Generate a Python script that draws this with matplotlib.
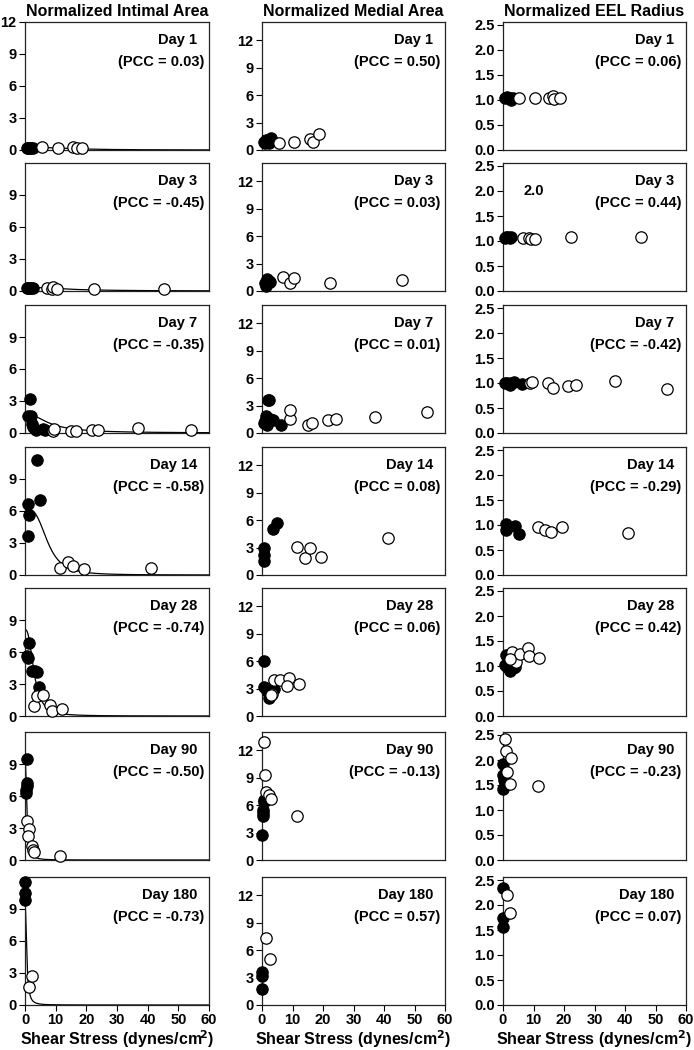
import numpy as np
import matplotlib
matplotlib.use("Agg")
import matplotlib.pyplot as plt

plt.rcParams['font.family'] = ['Liberation Sans', 'DejaVu Sans']
plt.rcParams['font.weight'] = 'bold'
plt.rcParams['mathtext.default'] = 'bf'

days = ["Day 1", "Day 3", "Day 7", "Day 14", "Day 28", "Day 90", "Day 180"]
col_titles = ["Normalized Intimal Area", "Normalized Medial Area", "Normalized EEL Radius"]

pcc_intimal = ["0.03", "-0.45", "-0.35", "-0.58", "-0.74", "-0.50", "-0.73"]
pcc_medial = ["0.50", "0.03", "0.01", "0.08", "0.06", "-0.13", "0.57"]
pcc_eel = ["0.06", "0.44", "-0.42", "-0.29", "0.42", "-0.23", "0.07"]

# ---------------- Intimal area ----------------
int_d1_filled = ([0.5, 1.0, 1.5, 2.0, 2.5], [0.2, 0.2, 0.2, 0.2, 0.2])
int_d1_open = ([5.4, 10.6, 15.8, 17.1, 18.5], [0.25, 0.2, 0.25, 0.2, 0.15])
int_d3_filled = ([0.5, 1.0, 1.5, 2.0, 2.5], [0.3, 0.3, 0.3, 0.3, 0.3])
int_d3_open = ([7.1, 8.7, 9.2, 10.5, 22.5, 45.3], [0.25, 0.15, 0.35, 0.15, 0.15, 0.15])
int_d7_filled = ([1.6, 1.1, 1.8, 2.2, 2.7, 3.6, 6.0, 6.5],
                 [3.2, 1.55, 1.6, 0.8, 0.55, 0.3, 0.4, 0.3])
int_d7_open = ([9.2, 9.5, 14.9, 16.6, 21.7, 23.9, 37.0, 54.0],
               [0.15, 0.4, 0.15, 0.2, 0.3, 0.3, 0.5, 0.25])
int_d14_filled = ([1.1, 1.3, 1.1, 3.8, 4.9], [6.7, 5.6, 3.65, 10.8, 7.0])
int_d14_open = ([11.4, 14.1, 15.8, 19.3, 41.1], [0.7, 1.25, 0.85, 0.6, 0.7])
int_d28_filled = ([0.8, 1.1, 1.4, 2.2, 3.3, 4.0, 4.7], [5.6, 5.4, 6.8, 4.2, 4.2, 4.1, 2.7])
int_d28_open = ([2.9, 4.0, 5.8, 8.2, 8.7, 12.0], [0.95, 1.9, 1.95, 1.05, 0.5, 0.7])
int_d90_filled = ([0.5, 0.3, 0.5, 0.8, 0.3], [9.5, 6.3, 6.9, 7.25, 6.6])
int_d90_open = ([0.8, 1.4, 1.1, 2.2, 2.7, 2.9, 11.4], [3.65, 2.9, 2.25, 1.3, 0.95, 0.75, 0.4])
int_d180_filled = ([0.0, 0.0, 0.0], [11.5, 10.5, 9.85])
int_d180_open = ([1.4, 2.4], [1.65, 2.75])

# fitted decay curve parameters (y = a / (1 + (x/x0)^n)) per day
int_fit_a = [0.25, 0.35, 1.85, 6.2, 8.1, 9.5, 9.5]
int_fit_x0 = [16.0, 14.0, 8.0, 7.4, 3.0, 0.65, 0.6]
int_fit_n = [2.5, 2.0, 2.0, 3.25, 2.6, 2.2, 2.2]

# ---------------- Medial area ----------------
med_d1_filled = ([0.5, 1.4, 2.2, 2.9, 1.1, 2.5], [0.9, 1.1, 0.8, 1.3, 0.75, 1.1])
med_d1_open = ([5.5, 10.6, 15.8, 16.7, 18.8], [0.75, 0.85, 1.15, 0.9, 1.8])
med_d3_filled = ([1.1, 1.6, 2.2, 1.4, 2.7], [0.9, 1.35, 1.1, 0.55, 1.0])
med_d3_open = ([6.9, 9.1, 10.4, 22.4, 45.8], [1.5, 0.85, 1.45, 0.85, 1.15])
med_d7_filled = ([1.9, 2.2, 1.4, 0.5, 1.6, 2.7, 3.6, 6.2, 1.1],
                 [3.65, 3.65, 1.9, 1.1, 0.9, 1.5, 1.45, 0.9, 1.3])
med_d7_open = ([9.1, 9.3, 15.0, 16.4, 21.8, 24.2, 36.9, 54.2],
               [1.5, 2.55, 0.9, 1.1, 1.45, 1.55, 1.75, 2.3])
med_d14_filled = ([0.8, 0.8, 0.5, 3.6, 4.9], [2.9, 2.2, 1.55, 5.0, 5.65])
med_d14_open = ([11.5, 14.2, 15.8, 19.3, 41.2], [3.1, 1.9, 2.9, 2.0, 4.1])
med_d28_filled = ([0.5, 0.5, 1.6, 2.2, 2.9, 3.8], [6.0, 3.2, 2.7, 2.0, 2.45, 3.0])
med_d28_open = ([3.3, 4.0, 5.8, 8.7, 8.2, 12.0, 2.9], [2.45, 3.9, 3.9, 4.15, 3.3, 3.55, 2.25])
med_d90_filled = ([0.0, 0.3, 0.3, 0.5, 0.3, 0.5], [2.7, 4.8, 5.5, 6.3, 5.15, 6.6])
med_d90_open = ([0.5, 1.1, 1.4, 2.2, 2.9, 11.5], [12.9, 9.3, 7.4, 7.1, 6.7, 4.8])
med_d180_filled = ([0.0, 0.0, 0.0], [3.65, 3.15, 1.75])
med_d180_open = ([1.4, 2.5], [7.3, 5.05])

# ---------------- EEL radius ----------------
eel_d1_filled = ([0.5, 1.3, 2.2, 2.7, 3.2], [1.03, 1.05, 1.03, 1.0, 1.03])
eel_d1_open = ([5.2, 10.6, 15.1, 16.4, 16.8, 18.6], [1.03, 1.03, 1.03, 1.07, 1.01, 1.03])
eel_d3_filled = ([0.5, 1.1, 1.6, 2.2, 2.7], [1.05, 1.07, 1.07, 1.05, 1.07])
eel_d3_open = ([6.5, 8.6, 9.2, 10.5, 22.2, 45.4], [1.05, 1.05, 1.04, 1.04, 1.07, 1.08])
eel_d7_filled = ([0.5, 1.3, 2.2, 3.5, 6.2, 2.7], [1.0, 1.01, 0.97, 1.02, 0.98, 1.0])
eel_d7_open = ([8.9, 9.4, 14.8, 16.4, 21.4, 23.8, 36.8, 53.7],
               [1.0, 1.03, 1.0, 0.9, 0.95, 0.97, 1.05, 0.88])
eel_d14_filled = ([0.9, 1.1, 1.6, 3.8, 5.1], [1.03, 0.91, 0.97, 0.98, 0.82])
eel_d14_open = ([11.4, 13.8, 15.7, 19.2, 40.9], [0.97, 0.91, 0.86, 0.97, 0.85])
eel_d28_filled = ([0.9, 0.5, 1.3, 2.2, 3.2, 3.8, 2.7], [1.23, 1.03, 0.98, 0.9, 0.96, 0.98, 0.96])
eel_d28_open = ([3.0, 4.1, 5.6, 8.1, 8.4, 11.9, 2.2], [1.29, 1.09, 1.25, 1.37, 1.2, 1.16, 1.15])
eel_d90_filled = ([0.0, 0.0, 0.2, 0.0, 0.5], [1.93, 1.71, 1.61, 1.43, 1.55])
eel_d90_open = ([0.5, 1.1, 2.7, 1.3, 2.2, 11.4], [2.43, 2.18, 2.05, 1.76, 1.53, 1.48])
eel_d180_filled = ([0.0, 0.0, 0.0], [2.34, 1.75, 1.57])
eel_d180_open = ([1.4, 2.4], [2.21, 1.85])

intimal = [(int_d1_filled, int_d1_open), (int_d3_filled, int_d3_open),
           (int_d7_filled, int_d7_open), (int_d14_filled, int_d14_open),
           (int_d28_filled, int_d28_open), (int_d90_filled, int_d90_open),
           (int_d180_filled, int_d180_open)]
medial = [(med_d1_filled, med_d1_open), (med_d3_filled, med_d3_open),
          (med_d7_filled, med_d7_open), (med_d14_filled, med_d14_open),
          (med_d28_filled, med_d28_open), (med_d90_filled, med_d90_open),
          (med_d180_filled, med_d180_open)]
eel = [(eel_d1_filled, eel_d1_open), (eel_d3_filled, eel_d3_open),
       (eel_d7_filled, eel_d7_open), (eel_d14_filled, eel_d14_open),
       (eel_d28_filled, eel_d28_open), (eel_d90_filled, eel_d90_open),
       (eel_d180_filled, eel_d180_open)]

W, H = 694, 1050
fig = plt.figure(figsize=(W / 100, H / 100), dpi=100)

col_left = [25, 262, 503]
col_width = [184, 183, 183]
row_top = [22, 163, 305, 447, 588, 732, 877]
row_h = 128

ylims = [(0, 12), (0, 14), (0, 2.56)]
yticks_all = [[0, 3, 6, 9, 12], [0, 3, 6, 9, 12], [0, 0.5, 1.0, 1.5, 2.0, 2.5]]
pccs = [pcc_intimal, pcc_medial, pcc_eel]
datas = [intimal, medial, eel]
xlabels = ["Shear Stress (dynes/cm$^{\\mathbf{2}}$)",
           "Shear Stress (dynes/cm$^{2}$)",
           "Shear Stress (dynes/cm$^{2}$)"]

ms = 8.2
for c in range(3):
    for r in range(7):
        left = col_left[c] / W
        bottom = 1 - (row_top[r] + row_h) / H
        ax = fig.add_axes([left, bottom, col_width[c] / W, row_h / H])
        ax.set_xlim(0, 60)
        ax.set_ylim(*ylims[c])
        filled, opened = datas[c][r]
        if c == 0:
            xs = np.linspace(0, 60, 600)
            a, x0, n = int_fit_a[r], int_fit_x0[r], int_fit_n[r]
            ax.plot(xs, a / (1 + (xs / x0) ** n), color='black', lw=0.9, zorder=1)
        ax.plot(filled[0], filled[1], 'o', ms=ms, mfc='black', mec='black',
                mew=0.8, zorder=3, clip_on=False)
        ax.plot(opened[0], opened[1], 'o', ms=ms, mfc='white', mec='black',
                mew=0.9, zorder=4, clip_on=False)
        yt = yticks_all[c]
        if c == 0 and r > 0:
            yt = [0, 3, 6, 9]
        ax.set_yticks(yt)
        if c == 2:
            ax.set_yticklabels([f"{v:.1f}" for v in yt])
        else:
            ax.set_yticklabels([str(v) for v in yt])
        ax.tick_params(axis='y', direction='out', length=4, width=0.8,
                       labelsize=10.5, pad=2)
        if r == 6:
            ax.set_xticks([0, 10, 20, 30, 40, 50, 60])
            ax.tick_params(axis='x', direction='out', length=4, width=0.8,
                           labelsize=10.5, pad=2)
            if c == 0:
                ax.set_xlabel("Shear Stress (dynes/cm", fontsize=11.5,
                              fontweight='bold', labelpad=1)
                ax.xaxis.label.set_text("Shear Stress (dynes/cm$^{\\!\\mathbf{2}}$)")
            else:
                ax.set_xlabel(xlabels[c], fontsize=11.5, fontweight='bold',
                              labelpad=1)
        else:
            ax.set_xticks([])
        for lab in ax.get_xticklabels() + ax.get_yticklabels():
            lab.set_fontweight('bold')
        for sp in ax.spines.values():
            sp.set_linewidth(0.9)
            sp.set_color('#222222')
        ax.text(0.935, 0.86, days[r], transform=ax.transAxes, ha='right',
                va='center', fontsize=10.5, fontweight='bold')
        ax.text(0.975, 0.69, f"(PCC = {pccs[c][r]})", transform=ax.transAxes,
                ha='right', va='center', fontsize=10.5, fontweight='bold')
        if r == 0:
            ax.set_title(col_titles[c], fontsize=11.5, fontweight='bold', pad=4)
        if c == 2 and r == 1:
            ax.text(10, 2.0, "2.0", ha='center', va='center', fontsize=10.5,
                    fontweight='bold')

fig.savefig("out.png", dpi=100)
